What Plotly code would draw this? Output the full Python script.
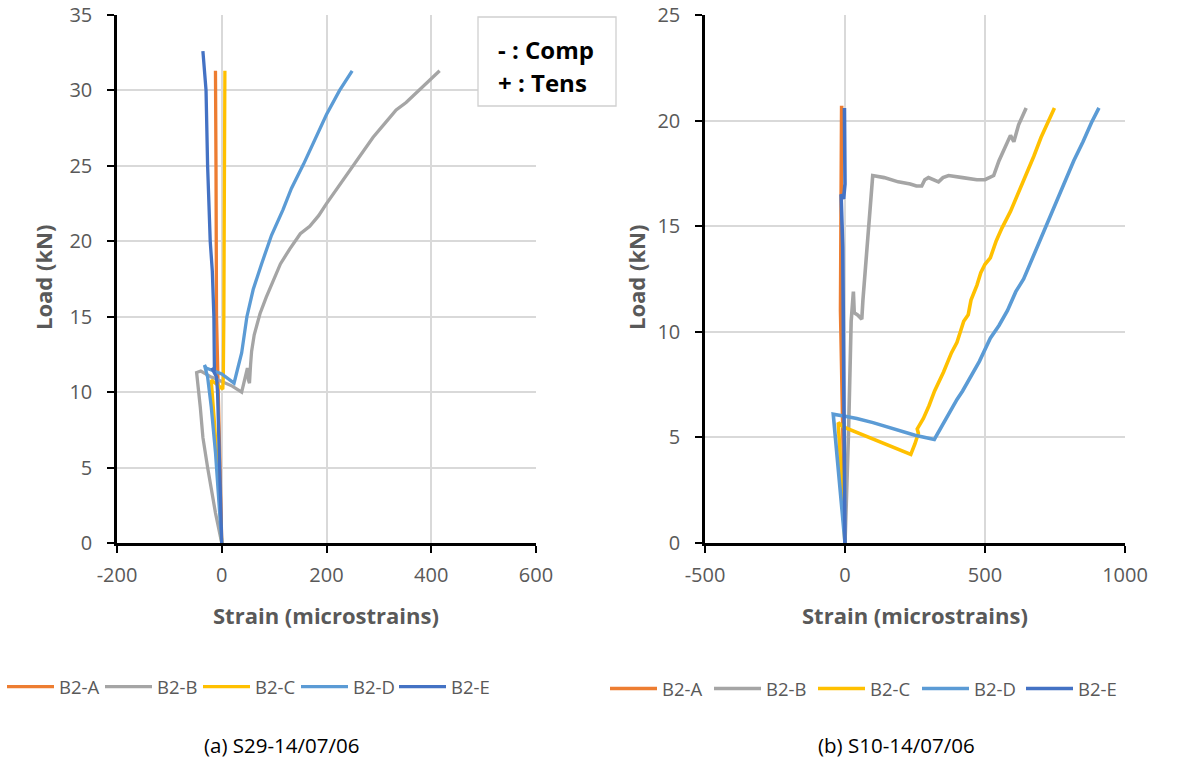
import plotly.graph_objects as go

W, H = 1181, 760

# ---------------- data ----------------
series_names = ["B2-A", "B2-B", "B2-C", "B2-D", "B2-E"]
series_colors = ["#ED7D31", "#A5A5A5", "#FFC000", "#5B9BD5", "#4472C4"]

# (a) S29-14/07/06
a_A_x = [0, -2, -5, -8, -10, -11, -12]
a_A_y = [0, 3, 7, 10.5, 15, 25, 31.3]
a_B_x = [0, -12, -27, -36, -41, -46, -48, -40, -20, 0, 20, 38, 45, 49, 51, 53, 55, 57, 62, 73, 85, 98, 112, 130, 150, 168, 185, 200, 222, 244, 266, 289, 311, 333, 352, 383, 416]
a_B_y = [0, 2, 5, 7, 9, 11, 11.3, 11.4, 11.0, 10.7, 10.4, 10.0, 11.0, 11.6, 10.8, 10.6, 11.8, 12.7, 13.8, 15.2, 16.3, 17.3, 18.5, 19.5, 20.5, 21.0, 21.7, 22.5, 23.6, 24.7, 25.8, 26.9, 27.8, 28.7, 29.2, 30.2, 31.3]
a_C_x = [0, -6, -14, -20, 2, 3, 4, 5, 6]
a_C_y = [0, 4, 8, 10.8, 10.2, 11, 15, 25, 31.3]
a_D_x = [0, -6, -12, -20, -27, -33, -30, 0, 23.5, 30, 38, 48, 60, 76, 95, 117, 133, 156, 181, 200, 225, 249]
a_D_y = [0, 3, 6, 9, 11, 11.8, 11.6, 11.2, 10.6, 11.5, 12.6, 15.0, 16.8, 18.5, 20.4, 22.1, 23.5, 25.1, 27.0, 28.4, 30.0, 31.3]
a_E_x = [0, -2, -5, -8, -10, -19, -14, -15, -18, -22, -25, -27, -30, -33, -36]
a_E_y = [0, 3, 7, 10, 11, 11.6, 11.4, 15, 18, 20, 23, 25, 30, 31.5, 32.6]

# (b) S10-14/07/06
b_A_x = [0, -5, -10, -16, -14, -12]
b_A_y = [0, 4, 8, 11, 16, 20.7]
b_B_x = [0, 6, 10, 12, 14, 16, 18, 22, 30, 33, 45, 60, 64, 70, 78, 85, 90, 95, 99, 140, 190, 233, 255, 274, 285, 298, 315, 334, 350, 370, 420, 471, 500, 519, 531, 550, 567, 591, 603, 620, 647]
b_B_y = [0, 2, 3.7, 5, 6, 7, 9.5, 10.5, 11.9, 10.9, 10.8, 10.6, 11.5, 12.5, 13.9, 15.0, 15.6, 16.5, 17.4, 17.3, 17.1, 17.0, 16.9, 16.9, 17.2, 17.3, 17.2, 17.1, 17.3, 17.4, 17.3, 17.2, 17.2, 17.3, 17.4, 18.1, 18.6, 19.3, 19.0, 19.8, 20.6]
b_C_x = [0, -8, -16, -24, -6, 50, 120, 180, 235, 250, 262, 258, 280, 300, 320, 352, 380, 400, 424, 440, 450, 471, 485, 500, 519, 540, 560, 591, 620, 650, 674, 700, 725, 748]
b_C_y = [0, 2, 4, 5.7, 5.5, 5.2, 4.8, 4.5, 4.2, 4.7, 5.2, 5.4, 5.9, 6.5, 7.2, 8.1, 9.0, 9.5, 10.5, 10.8, 11.5, 12.2, 12.8, 13.2, 13.5, 14.3, 14.9, 15.7, 16.6, 17.5, 18.3, 19.2, 19.9, 20.6]
b_D_x = [0, -10, -20, -30, -42, 0, 42, 100, 180, 250, 319, 340, 360, 400, 420, 450, 480, 519, 550, 580, 610, 638, 670, 700, 730, 758, 790, 817, 850, 880, 907]
b_D_y = [0, 1.5, 3, 4.5, 6.1, 6.0, 5.9, 5.7, 5.4, 5.1, 4.9, 5.4, 5.8, 6.8, 7.2, 7.9, 8.6, 9.7, 10.3, 11.0, 11.9, 12.5, 13.5, 14.4, 15.4, 16.3, 17.3, 18.1, 19.0, 19.9, 20.6]
b_E_x = [0, -2, -5, -8, -14, -5, 0, -2, -2]
b_E_y = [0, 5, 10, 14, 16.5, 16.3, 17, 19, 20.6]

a_xticks = [-200, 0, 200, 400, 600]
a_xlabels = ["-200", "0", "200", "400", "600"]
b_xticks = [-500, 0, 500, 1000]
b_xlabels = ["-500", "0", "500", "1000"]
a_yticks = [0, 5, 10, 15, 20, 25, 30, 35]
b_yticks = [0, 5, 10, 15, 20, 25]

caption_a = "(a) S29-14/07/06"
caption_b = "(b) S10-14/07/06"
x_title = "Strain (microstrains)"
y_title = "Load (kN)"
note_lines = ["- : Comp", "+ : Tens"]

# ---------------- figure ----------------
def px(x):
    return x / W

def py(y):
    return 1 - y / H

FONT = "Open Sans"
GREY_TXT = "#595959"

a_data = [(a_A_x, a_A_y), (a_B_x, a_B_y), (a_C_x, a_C_y), (a_D_x, a_D_y), (a_E_x, a_E_y)]
b_data = [(b_A_x, b_A_y), (b_B_x, b_B_y), (b_C_x, b_C_y), (b_D_x, b_D_y), (b_E_x, b_E_y)]

fig = go.Figure()
for (xs, ys), name, col in zip(a_data, series_names, series_colors):
    fig.add_trace(go.Scatter(x=xs, y=ys, mode="lines", name=name,
                             line=dict(color=col, width=3.3), xaxis="x", yaxis="y",
                             legend="legend"))
for (xs, ys), name, col in zip(b_data, series_names, series_colors):
    fig.add_trace(go.Scatter(x=xs, y=ys, mode="lines", name=name,
                             line=dict(color=col, width=3.6), xaxis="x2", yaxis="y2",
                             legend="legend2"))

axis_common = dict(showgrid=True, gridcolor="#D9D9D9", gridwidth=1.7,
                   showline=True, linecolor="black", linewidth=2.5,
                   ticks="outside", ticklen=7, tickcolor="black", tickwidth=2,
                   zeroline=False, tickfont=dict(family=FONT, size=20, color=GREY_TXT),
                   automargin=False)

y_dom = [py(543), py(15)]
fig.update_layout(
    width=W, height=H,
    margin=dict(l=0, r=0, t=0, b=0, autoexpand=False),
    paper_bgcolor="white", plot_bgcolor="white",
    font=dict(family=FONT, color=GREY_TXT),
    xaxis=dict(domain=[px(117), px(536)], range=[-200, 600], tickvals=a_xticks, ticktext=a_xlabels,
               anchor="y", ticklabelstandoff=5, **axis_common),
    yaxis=dict(domain=y_dom, range=[0, 35], tickvals=a_yticks, anchor="x",
               ticklabelstandoff=11, **axis_common),
    xaxis2=dict(domain=[px(705), px(1125)], range=[-500, 1000], tickvals=b_xticks, ticktext=b_xlabels,
                anchor="y2", ticklabelstandoff=5, **axis_common),
    yaxis2=dict(domain=y_dom, range=[0, 25], tickvals=b_yticks, anchor="x2",
                ticklabelstandoff=11, **axis_common),
    legend=dict(orientation="h", x=px(2), y=py(687), xanchor="left", yanchor="middle",
                itemwidth=47, entrywidth=36, entrywidthmode="pixels",
                font=dict(family=FONT, size=18.5, color=GREY_TXT), bgcolor="rgba(0,0,0,0)"),
    legend2=dict(orientation="h", x=px(605), y=py(689), xanchor="left", yanchor="middle",
                 itemwidth=47, entrywidth=42, entrywidthmode="pixels",
                 font=dict(family=FONT, size=18.5, color=GREY_TXT), bgcolor="rgba(0,0,0,0)"),
)

annotations = []
# axis titles
for cx in (326, 915):
    annotations.append(dict(x=px(cx), y=py(615), xref="paper", yref="paper", text=f"<b>{x_title}</b>",
                            showarrow=False, xanchor="center", yanchor="middle",
                            font=dict(family=FONT, size=22, color=GREY_TXT)))
for cx in (43, 636):
    annotations.append(dict(x=px(cx), y=py(278), xref="paper", yref="paper", text=f"<b>{y_title}</b>",
                            showarrow=False, xanchor="center", yanchor="middle", textangle=-90,
                            font=dict(family=FONT, size=22, color=GREY_TXT)))
# captions
annotations.append(dict(x=px(281), y=py(745), xref="paper", yref="paper", text=caption_a,
                        showarrow=False, xanchor="center", yanchor="middle",
                        font=dict(family=FONT, size=20.5, color="black")))
annotations.append(dict(x=px(896), y=py(745), xref="paper", yref="paper", text=caption_b,
                        showarrow=False, xanchor="center", yanchor="middle",
                        font=dict(family=FONT, size=20.5, color="black")))
# comp / tens note
for i, t in enumerate(note_lines):
    annotations.append(dict(x=px(496), y=py(49 + 34 * i), xref="paper", yref="paper", text=f"<b>{t}</b>",
                            showarrow=False, xanchor="left", yanchor="middle",
                            font=dict(family=FONT, size=24, color="black")))
fig.update_layout(annotations=annotations)

fig.add_shape(type="rect", xref="paper", yref="paper",
              x0=px(478), x1=px(616), y0=py(106), y1=py(17),
              line=dict(color="#D0D0D0", width=1.3), fillcolor="white", layer="above")

fig.write_html("out.html")
